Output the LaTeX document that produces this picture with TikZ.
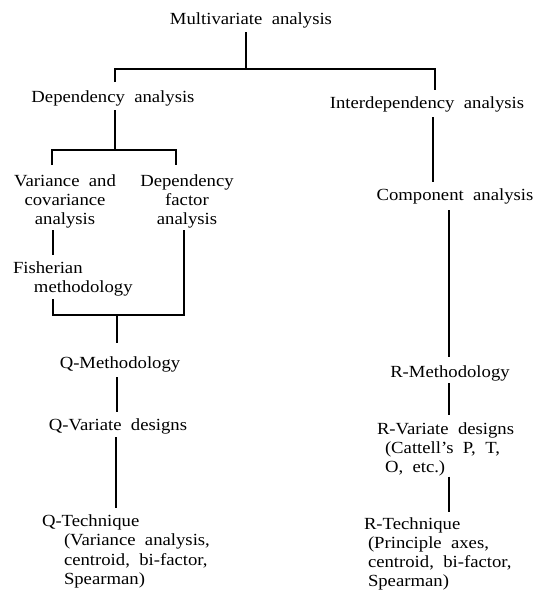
\documentclass[tikz,border=0pt]{standalone}
\usepackage{fontspec}
\setmainfont{Liberation Serif}[FakeStretch=1.1, WordSpace=2]
\usetikzlibrary{calc}
\begin{document}
\begin{tikzpicture}[x=1pt,y=-1pt,
  lbl/.style={inner sep=0pt, outer sep=0pt, font=\fontsize{17}{19.3}\selectfont, anchor=base},
  lbox/.style={lbl, align=left, anchor=base west},
  cbox/.style={lbl, align=center},
  link/.style={line width=1.1pt}]
\useasboundingbox (0,0) rectangle (544,590);
% nodes (multi-line nodes are placed by the baseline of their last line)
\node[lbl] (multi) at (251,24) {Multivariate analysis};
\node[lbl] (dep) at (113,102) {Dependency analysis};
\node[lbl] (inter) at (427,108) {Interdependency analysis};
\node[cbox] (var) at (65,224.6) {Variance and\\covariance\\analysis};
\node[cbox] (depf) at (187,224.6) {Dependency\\factor\\analysis};
\node[lbox] (fish) at (13,292.3) {Fisherian\\\hspace*{21pt}methodology};
\node[lbl] (comp) at (455,200) {Component analysis};
\node[lbl] (qmeth) at (120,368) {Q-Methodology};
\node[lbl] (qvar) at (118,430.5) {Q-Variate designs};
\node[lbox] (qtech) at (42,584.4) {Q-Technique\\\hspace*{22pt}(Variance analysis,\\\hspace*{22pt}centroid, bi-factor,\\\hspace*{22pt}Spearman)};
\node[lbl] (rmeth) at (450,377) {R-Methodology};
\node[lbox] (rvar) at (377,472.6) {R-Variate designs\\\hspace*{8pt}(Cattell’s P, T,\\\hspace*{8pt}O, etc.)};
\node[lbox] (rtech) at (364,586.9) {R-Technique\\\hspace*{4pt}(Principle axes,\\\hspace*{4pt}centroid, bi-factor,\\\hspace*{4pt}Spearman)};
% junctions
\coordinate (b1) at (246,69);
\coordinate (b1L) at (115,69);
\coordinate (b1R) at (435,69);
\coordinate (b2) at (115,150);
\coordinate (b2L) at (52,150);
\coordinate (b2R) at (176,150);
\coordinate (b3) at (117,315);
\coordinate (b3L) at (53,315);
\coordinate (b3R) at (184,315);
\coordinate (cx) at (433,0);
\coordinate (qx) at (116,0);
\coordinate (rx) at (449,0);
% connectors
\draw[link] ($(multi.base -| b1)+(0,8)$) -- (b1);
\draw[link] ($(dep.base -| b1L)+(0,-20)$) -- (b1L) -- (b1R) -- ($(inter.base -| b1R)+(0,-18)$);
\draw[link] ($(dep.base -| b2)+(0,8)$) -- (b2);
\draw[link] ($(var.base -| b2L)+(0,-59.6)$) -- (b2L) -- (b2R) -- ($(depf.base -| b2R)+(0,-59.6)$);
\draw[link] ($(inter.base -| cx)+(0,9)$) -- ($(comp.base -| cx)+(0,-18)$);
\draw[link] ($(var.base -| b3L)+(0,5.4)$) -- ($(fish.base -| b3L)+(0,-37.3)$);
\draw[link] ($(fish.base -| b3L)+(0,6.7)$) -- (b3L) -- (b3R) -- ($(depf.base -| b3R)+(0,5.4)$);
\draw[link] (b3) -- ($(qmeth.base -| b3)+(0,-25)$);
\draw[link] ($(qmeth.base -| b3)+(0,9)$) -- ($(qvar.base -| b3)+(0,-18.5)$);
\draw[link] ($(qvar.base -| qx)+(0,6.5)$) -- ($(qtech.base -| qx)+(0,-76.4)$);
\draw[link] ($(comp.base -| rx)+(0,10)$) -- ($(rmeth.base -| rx)+(0,-20)$);
\draw[link] ($(rmeth.base -| rx)+(0,6)$) -- ($(rvar.base -| rx)+(0,-57.6)$);
\draw[link] ($(rvar.base -| rx)+(0,4)$) -- ($(rtech.base -| rx)+(0,-74.9)$);
\end{tikzpicture}
\end{document}
